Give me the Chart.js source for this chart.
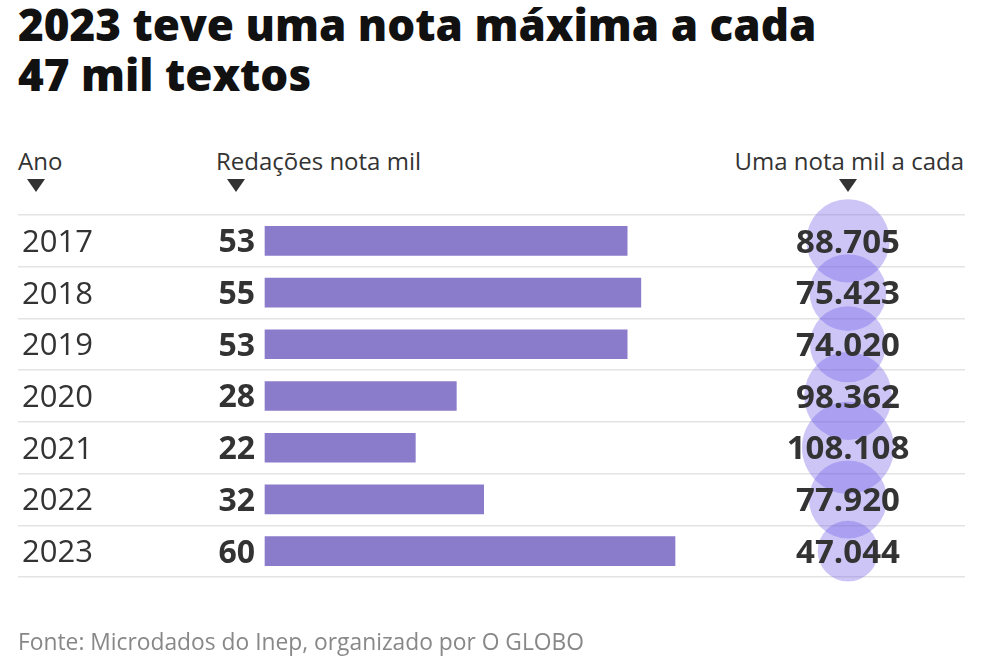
<!DOCTYPE html>
<html>
<head>
<meta charset="utf-8">
<script src="https://cdn.jsdelivr.net/npm/chart.js@4"></script>
<style>
  html, body { margin: 0; padding: 0; background: #fff; }
  body { width: 984px; height: 672px; position: relative; overflow: hidden; font-family: 'Open Sans', sans-serif; color: #333; }
  .title { position: absolute; left: 18px; top: -1px; font-size: 44px; line-height: 50px; font-weight: 800; color: #111; white-space: nowrap; }
  .head { position: absolute; top: 146px; font-size: 24px; line-height: 30px; color: #333; white-space: nowrap; }
  .tri { position: absolute; top: 179px; width: 0; height: 0; border-left: 9px solid transparent; border-right: 9px solid transparent; border-top: 13px solid #333; }
  .source { position: absolute; left: 18px; top: 627px; font-size: 22.8px; line-height: 30px; color: #888; white-space: nowrap; }
  #wrap { position: absolute; left: 0; top: 0; width: 984px; height: 672px; }
</style>
</head>
<body>
<div class="title">2023 teve uma nota máxima a cada<br>47 mil textos</div>
<div class="head" style="left:18px">Ano</div>
<div class="tri" style="left:27px"></div>
<div class="head" style="left:216px">Redações nota mil</div>
<div class="tri" style="left:227px"></div>
<div class="head" style="right:20px">Uma nota mil a cada</div>
<div class="tri" style="left:839px"></div>
<div id="wrap"><canvas id="chart"></canvas></div>
<div class="source">Fonte: Microdados do Inep, organizado por O GLOBO</div>

<script>
// data
const years = ['2017', '2018', '2019', '2020', '2021', '2022', '2023'];
const perfectEssays = [53, 55, 53, 28, 22, 32, 60];
const onePerEvery = [88705, 75423, 74020, 98362, 108108, 77920, 47044];

// layout
const AREA_LEFT = 18, AREA_RIGHT = 965, AREA_TOP = 215, AREA_BOTTOM = 577;
const BAR_ZERO = 265, PX_PER_UNIT = 410 / 60;
const CIRCLE_X = 848, R_MAX = 46;

const fmt = v => String(v).replace(/\B(?=(\d{3})+(?!\d))/g, '.');
const maxEvery = Math.max(...onePerEvery);

const labelsPlugin = {
    id: 'rowLabels',
    afterDatasetsDraw(chart) {
        const ctx = chart.ctx;
        const yScale = chart.scales.y;
        const xScale = chart.scales.x;
        const bubbles = chart.getDatasetMeta(1).data;
        ctx.save();
        ctx.fillStyle = '#333';
        ctx.textBaseline = 'alphabetic';
        years.forEach((yr, i) => {
            const cy = yScale.getPixelForValue(i);
            ctx.font = '31px "Open Sans"';
            ctx.textAlign = 'left';
            ctx.fillText(yr, 22, cy + 0.357 * 31);
            ctx.font = 'bold 32px "Open Sans"';
            ctx.textAlign = 'right';
            ctx.fillText(perfectEssays[i], xScale.getPixelForValue(0) - 10, cy + 0.357 * 32);
            ctx.font = 'bold 33px "Open Sans"';
            ctx.textAlign = 'center';
            ctx.fillText(fmt(onePerEvery[i]), bubbles[i].x, cy + 0.357 * 33);
        });
        ctx.restore();
    }
};

new Chart(document.getElementById('chart'), {
    type: 'bar',
    data: {
        labels: years,
        datasets: [
            {
                type: 'bar',
                indexAxis: 'y',
                grouped: false,
                data: perfectEssays,
                backgroundColor: '#8b7bcb',
                barThickness: 29,
                xAxisID: 'x',
                yAxisID: 'y'
            },
            {
                type: 'bubble',
                data: onePerEvery.map((v, i) => ({ x: CIRCLE_X, y: i, r: R_MAX * Math.sqrt(v / maxEvery) })),
                backgroundColor: 'rgba(110, 90, 230, 0.35)',
                borderWidth: 0,
                clip: false,
                xAxisID: 'x2',
                yAxisID: 'y'
            }
        ]
    },
    options: {
        responsive: true,
        maintainAspectRatio: false,
        animation: false,
        layout: {
            autoPadding: false,
            padding: { left: AREA_LEFT, right: 984 - AREA_RIGHT, top: AREA_TOP, bottom: 672 - AREA_BOTTOM }
        },
        plugins: {
            legend: { display: false },
            tooltip: { enabled: false }
        },
        scales: {
            x: {
                type: 'linear',
                display: false,
                offset: false,
                min: -(BAR_ZERO - AREA_LEFT) / PX_PER_UNIT,
                max: (AREA_RIGHT - BAR_ZERO) / PX_PER_UNIT
            },
            x2: {
                type: 'linear',
                display: false,
                offset: false,
                min: AREA_LEFT,
                max: AREA_RIGHT
            },
            y: {
                type: 'category',
                labels: years,
                offset: true,
                ticks: { display: false },
                border: { display: false },
                grid: { offset: true, drawTicks: false, color: '#e3e3e3', lineWidth: 1.5 }
            }
        }
    },
    plugins: [labelsPlugin]
});
</script>
</body>
</html>
